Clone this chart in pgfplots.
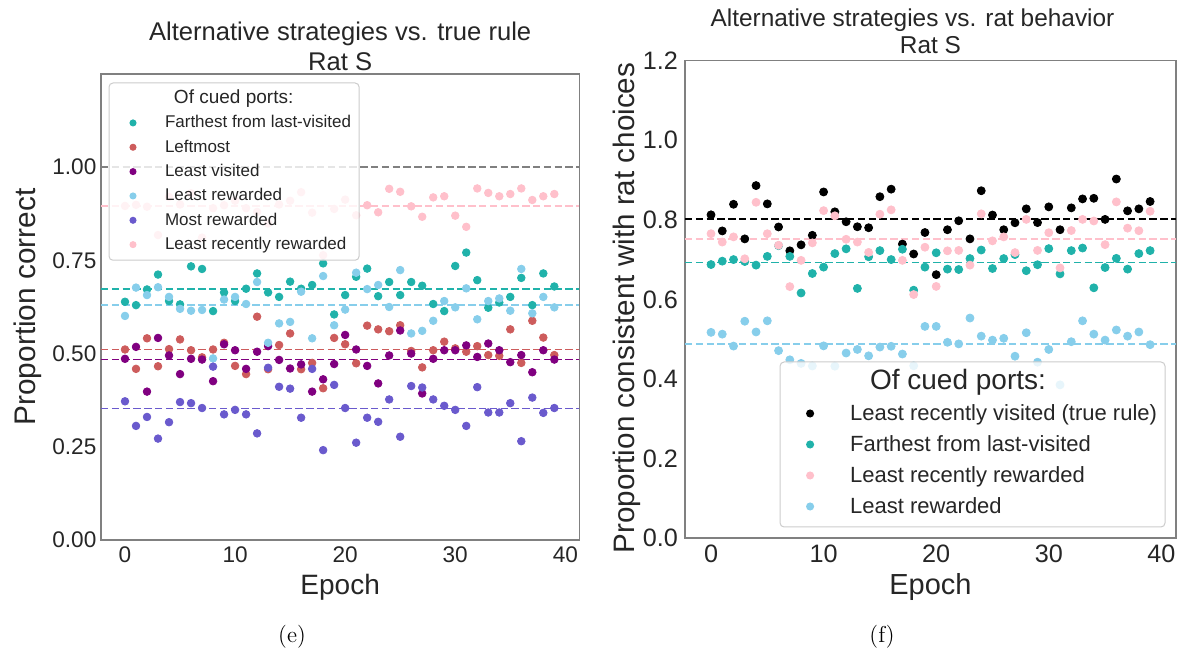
\documentclass[border=0pt]{standalone}
\usepackage{fontspec}
\usepackage{pgfplots}
\usepackage{pgfplotstable}
\pgfplotsset{compat=1.18}
\newfontfamily\af{Liberation Sans}

\definecolor{cfar}{HTML}{20B2AA}
\definecolor{cleft}{HTML}{CD5C5C}
\definecolor{cvis}{HTML}{800080}
\definecolor{crew}{HTML}{87CEEB}
\definecolor{cmost}{HTML}{6A5ACD}
\definecolor{crecent}{HTML}{FFC0CB}
\definecolor{ctxt}{HTML}{262626}
\definecolor{cspine}{HTML}{808080}
\definecolor{cframe}{HTML}{CCCCCC}

% proportion correct of each alternative strategy, per epoch
\pgfplotstableread{
e  far   left  lvis  lrew  mrew  lrr
0  0.639 0.511 0.486 0.601 0.372 0.896
1  0.630 0.459 0.518 0.677 0.306 0.899
2  0.672 0.541 0.398 0.657 0.330 0.894
3  0.712 0.466 0.542 0.678 0.272 0.818
4  0.641 0.512 0.495 0.652 0.316 0.920
5  0.632 0.538 0.445 0.620 0.370 0.900
6  0.734 0.509 0.486 0.615 0.367 0.930
7  0.727 0.490 0.484 0.617 0.354 0.811
8  0.614 0.511 0.426 0.487 0.465 0.890
9  0.664 0.529 0.525 0.645 0.337 0.898
10 0.641 0.467 0.509 0.652 0.349 0.910
11 0.674 0.445 0.459 0.633 0.337 0.890
12 0.715 0.599 0.505 0.692 0.286 0.880
13 0.664 0.458 0.520 0.529 0.462 0.849
14 0.652 0.523 0.483 0.581 0.411 0.900
15 0.693 0.554 0.460 0.585 0.406 0.910
16 0.674 0.458 0.471 0.666 0.328 0.933
17 0.684 0.475 0.398 0.541 0.459 0.878
18 0.742 0.407 0.431 0.708 0.241 0.764
19 0.605 0.542 0.472 0.576 0.416 0.888
20 0.657 0.525 0.550 0.618 0.354 0.913
21 0.706 0.474 0.511 0.717 0.261 0.871
22 0.728 0.575 0.467 0.673 0.328 0.898
23 0.654 0.565 0.420 0.684 0.317 0.879
24 0.692 0.560 0.495 0.625 0.377 0.942
25 0.657 0.576 0.562 0.724 0.277 0.934
26 0.692 0.507 0.500 0.554 0.413 0.895
27 0.682 0.463 0.393 0.561 0.409 0.867
28 0.633 0.509 0.486 0.588 0.377 0.919
29 0.614 0.532 0.509 0.641 0.360 0.922
30 0.735 0.514 0.509 0.624 0.349 0.870
31 0.771 0.505 0.522 0.675 0.306 0.840
32 0.697 0.520 0.491 0.592 0.410 0.943
33 0.623 0.496 0.527 0.641 0.342 0.931
34 0.637 0.494 0.509 0.648 0.342 0.922
35 0.652 0.565 0.477 0.615 0.367 0.928
36 0.703 0.475 0.496 0.727 0.265 0.943
37 0.630 0.588 0.450 0.608 0.382 0.912
38 0.715 0.543 0.509 0.652 0.341 0.922
39 0.680 0.496 0.484 0.624 0.354 0.928
}\truerule

% proportion of rat choices consistent with each strategy, per epoch
\pgfplotstableread{
e  lrv    far    lrr    lrew
0  0.8125 0.6875 0.765  0.517
1  0.772  0.696  0.744  0.5125
2  0.839  0.700  0.757  0.4825
3  0.752  0.695  0.702  0.545
4  0.886  0.686  0.844  0.518
5  0.840  0.708  0.765  0.546
6  0.782  0.735  0.736  0.471
7  0.722  0.708  0.632  0.448
8  0.737  0.616  0.698  0.439
9  0.761  0.665  0.742  0.4325
10 0.870  0.681  0.823  0.483
11 0.820  0.715  0.810  0.432
12 0.795  0.727  0.751  0.465
13 0.7825 0.6275 0.744  0.474
14 0.780  0.707  0.718  0.458
15 0.858  0.7225 0.814  0.480
16 0.877  0.700  0.825  0.482
17 0.739  0.726  0.698  0.4625
18 0.714  0.623  0.612  0.433
19 0.768  0.681  0.731  0.532
20 0.662  0.717  0.6325 0.532
21 0.775  0.676  0.722  0.492
22 0.7975 0.675  0.723  0.488
23 0.752  0.7025 0.686  0.553
24 0.873  0.724  0.815  0.5075
25 0.812  0.6775 0.747  0.4975
26 0.775  0.7025 0.757  0.502
27 0.7925 0.7125 0.7175 0.457
28 0.8275 0.672  0.801  0.516
29 0.793  0.687  0.723  0.442
30 0.8325 0.7275 0.7675 0.474
31 0.775  0.664  0.679  0.385
32 0.830  0.7225 0.773  0.4935
33 0.8525 0.729  0.801  0.546
34 0.854  0.629  0.797  0.5125
35 0.801  0.680  0.7375 0.4975
36 0.9025 0.703  0.845  0.523
37 0.8225 0.676  0.779  0.5075
38 0.8275 0.715  0.7725 0.518
39 0.846  0.7225 0.8215 0.486
}\ratbehav

\pgfplotsset{
  panel/.style={
    scale only axis,
    axis line style={cspine, line width=0.6pt},
    major tick length=0pt, minor tick length=0pt,
    tick style={draw=none},
    /pgf/number format/assume math mode=true,
    xtick={0,10,20,30,40},
    every tick label/.append style={text=ctxt},
    every axis title shift=0pt,
    legend cell align=left,
  },
  dots/.style={only marks, mark=*, mark size=#1, mark options={draw=none}},
  mean/.style={forget plot, dash pattern=on 3.7pt off 1.7pt, line width=0.8pt},
}

\begin{document}
\begin{tikzpicture}
\path[use as bounding box] (0,0) rectangle (589pt,328.5pt);

% ---------------- (e) strategies vs. true rule ----------------
\begin{axis}[panel,
  at={(50.5pt,58.5pt)}, anchor=south west,
  width=239.15pt, height=233pt,
  xmin=-2.18, xmax=41.27, ymin=0, ymax=1.25,
  ytick={0,0.25,0.5,0.75,1},
  yticklabel style={/pgf/number format/fixed,
    /pgf/number format/fixed zerofill,
    /pgf/number format/precision=2, xshift=1.2pt},
  tick label style={font=\fontsize{11.3}{13}\selectfont\af},
  title={Alternative strategies vs. true rule},
  title style={at={(0.5,1)}, anchor=base, yshift=16.5pt,
    font=\fontsize{12.8}{15}\selectfont\af, text=ctxt},
  xlabel={Epoch},
  xlabel style={at={(0.5,0)}, anchor=base, yshift=-27.5pt,
    font=\fontsize{14}{16}\selectfont\af, text=ctxt},
  ylabel={Proportion correct},
  every axis y label/.style={at={(0,0.5)}, rotate=90, anchor=base,
    yshift=33pt, font=\fontsize{14.9}{17}\selectfont\af, text=ctxt},
  extra description/.code={
    \node[anchor=base, font=\fontsize{12.8}{15}\selectfont\af, text=ctxt]
      at (0.5,1) [yshift=1.6pt] {Rat S};
  },
  legend style={at={(0,1)}, anchor=north west, xshift=4pt, yshift=-4.5pt,
    draw=cframe, line width=0.5pt, rounded corners=2pt,
    fill=white, fill opacity=0.8, draw opacity=1, text opacity=1,
    inner xsep=4pt, inner ysep=3.3pt, outer sep=0pt,
    font=\fontsize{8.5}{10}\selectfont\af, text=ctxt,
    row sep=3.17pt,
    nodes={inner sep=0pt, text height=7pt, text depth=2pt},
    /tikz/every odd column/.append style={column sep=8pt}},
  legend image code/.code={
    \path[draw=none, fill=none] (0pt,0pt) -- (16pt,0pt);
    \draw[#1, mark size=1.5pt, fill opacity=1, draw opacity=1,
      mark repeat=2, mark phase=2]
      plot coordinates {(0pt,0pt) (8pt,0pt) (16pt,0pt)};},
]
\addlegendimage{empty legend}
\addlegendentry{\hspace{4.5pt}\fontsize{9.5}{11}\selectfont Of cued ports:}

\addplot[dots=1.9pt, cfar]    table[x=e, y=far]  {\truerule};
\addlegendentry{Farthest from last-visited}
\addplot[dots=1.9pt, cleft]   table[x=e, y=left] {\truerule};
\addlegendentry{Leftmost}
\addplot[dots=1.9pt, cvis]    table[x=e, y=lvis] {\truerule};
\addlegendentry{Least visited}
\addplot[dots=1.9pt, crew]    table[x=e, y=lrew] {\truerule};
\addlegendentry{Least rewarded}
\addplot[dots=1.9pt, cmost]   table[x=e, y=mrew] {\truerule};
\addlegendentry{Most rewarded}
\addplot[dots=1.9pt, crecent] table[x=e, y=lrr]  {\truerule};
\addlegendentry{Least recently rewarded}

% mean of each strategy, and the true rule
\addplot[mean, cspine]  coordinates {(-2.18,1.000) (41.27,1.000)};
\addplot[mean, crecent] coordinates {(-2.18,0.896) (41.27,0.896)};
\addplot[mean, cfar]    coordinates {(-2.18,0.674) (41.27,0.674)};
\addplot[mean, crew]    coordinates {(-2.18,0.630) (41.27,0.630)};
\addplot[mean, cleft]   coordinates {(-2.18,0.511) (41.27,0.511)};
\addplot[mean, cvis]    coordinates {(-2.18,0.484) (41.27,0.484)};
\addplot[mean, cmost]   coordinates {(-2.18,0.353) (41.27,0.353)};
\end{axis}

% ---------------- (f) strategies vs. rat behavior ----------------
\begin{axis}[panel,
  at={(342.5pt,59.5pt)}, anchor=south west,
  width=245.5pt, height=238.65pt,
  xmin=-2.31, xmax=41.3, ymin=0, ymax=1.2,
  ytick={0,0.2,0.4,0.6,0.8,1.0,1.2},
  yticklabel style={/pgf/number format/fixed,
    /pgf/number format/fixed zerofill,
    /pgf/number format/precision=1},
  tick label style={font=\fontsize{12.6}{15}\selectfont\af},
  title={Alternative strategies vs. rat behavior},
  title style={at={(0.5,1)}, anchor=base, yshift=17pt, xshift=-9pt,
    font=\fontsize{12.2}{15}\selectfont\af, text=ctxt},
  xlabel={Epoch},
  xlabel style={at={(0.5,0)}, anchor=base, yshift=-28.5pt,
    font=\fontsize{14.5}{17}\selectfont\af, text=ctxt},
  ylabel={Proportion consistent with rat choices},
  every axis y label/.style={at={(0,0.482)}, rotate=90, anchor=base,
    yshift=25.5pt, font=\fontsize{14.8}{17}\selectfont\af, text=ctxt},
  extra description/.code={
    \node[anchor=base, font=\fontsize{12.2}{15}\selectfont\af, text=ctxt]
      at (0.5,1) [yshift=3.5pt] {Rat S};
  },
  legend style={at={(1,0)}, anchor=south east, xshift=-5.5pt, yshift=5.5pt,
    draw=cframe, line width=0.5pt, rounded corners=2pt,
    fill=white, fill opacity=0.8, draw opacity=1, text opacity=1,
    inner xsep=4pt, inner ysep=4pt, outer sep=0pt,
    font=\fontsize{11}{13}\selectfont\af, text=ctxt,
    row sep=3pt,
    nodes={inner sep=0pt, text height=10pt, text depth=2.5pt},
    /tikz/every odd column/.append style={column sep=9pt}},
  legend image code/.code={
    \path[draw=none, fill=none] (0pt,0pt) -- (22pt,0pt);
    \draw[#1, mark size=1.75pt, fill opacity=1, draw opacity=1,
      mark repeat=2, mark phase=2]
      plot coordinates {(0pt,0pt) (11pt,0pt) (22pt,0pt)};},
]
\addlegendimage{empty legend}
\addlegendentry{\hspace{10pt}\fontsize{14}{16}\selectfont Of cued ports:}

\addplot[dots=2pt, black]   table[x=e, y=lrv]  {\ratbehav};
\addlegendentry{Least recently visited (true rule)}
\addplot[dots=2pt, cfar]    table[x=e, y=far]  {\ratbehav};
\addlegendentry{Farthest from last-visited}
\addplot[dots=2pt, crecent] table[x=e, y=lrr]  {\ratbehav};
\addlegendentry{Least recently rewarded}
\addplot[dots=2pt, crew]    table[x=e, y=lrew] {\ratbehav};
\addlegendentry{Least rewarded}

\addplot[mean, black]   coordinates {(-2.31,0.8025) (41.3,0.8025)};
\addplot[mean, crecent] coordinates {(-2.31,0.751) (41.3,0.751)};
\addplot[mean, cfar]    coordinates {(-2.31,0.693) (41.3,0.693)};
\addplot[mean, crew]    coordinates {(-2.31,0.488) (41.3,0.488)};
\end{axis}

% subfigure captions
\node[font=\fontsize{11.5}{14}\selectfont] at (146pt,10pt) {(e)};
\node[font=\fontsize{11.5}{14}\selectfont] at (441pt,10pt) {(f)};
\end{tikzpicture}
\end{document}
